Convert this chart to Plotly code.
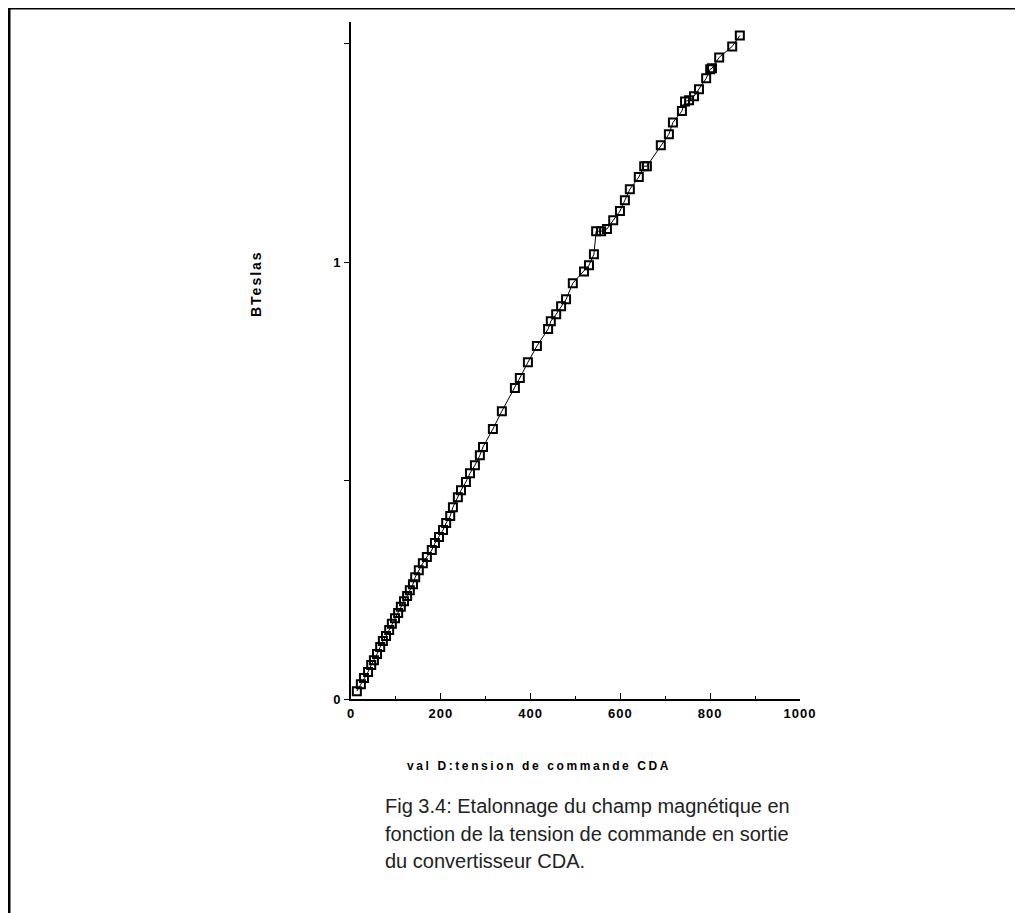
import plotly.graph_objects as go

# Data: control value (CDA) vs magnetic field (Tesla)
val_d = [13, 22, 29, 38, 45, 51, 58, 65, 71, 78, 85, 91, 98, 105, 111, 118, 125, 131, 138,
         143, 151, 160, 169, 180, 187, 196, 205, 212, 221, 227, 238, 245, 256, 265, 276,
         287, 294, 316, 336, 365, 376, 394, 414, 439, 445, 457, 468, 479, 494, 519, 530,
         541, 546, 557, 570, 584, 599, 610, 621, 641, 653, 659, 690, 708, 717, 737, 744,
         753, 764, 775, 791, 800, 804, 820, 849, 866]
b_teslas = [0.018, 0.034, 0.048, 0.062, 0.078, 0.089, 0.103, 0.119, 0.133, 0.144, 0.158,
            0.172, 0.185, 0.197, 0.211, 0.224, 0.236, 0.249, 0.263, 0.279, 0.295, 0.311,
            0.325, 0.341, 0.357, 0.371, 0.387, 0.403, 0.419, 0.439, 0.462, 0.478, 0.497,
            0.517, 0.535, 0.558, 0.577, 0.618, 0.659, 0.712, 0.735, 0.771, 0.808, 0.847,
            0.865, 0.881, 0.899, 0.915, 0.952, 0.979, 0.993, 1.018, 1.071, 1.071, 1.076,
            1.096, 1.117, 1.142, 1.167, 1.195, 1.220, 1.220, 1.268, 1.293, 1.320, 1.346,
            1.368, 1.371, 1.380, 1.396, 1.421, 1.442, 1.444, 1.469, 1.494, 1.519]

x_ticks = [0, 200, 400, 600, 800, 1000]
x_ticklabels = ["0", "200", "400", "600", "800", "1000"]
y_ticks = [0, 0.5, 1, 1.5]
y_ticklabels = ["0", "", "1", ""]

x_title = "val D:tension de commande CDA"
y_title = "BTeslas"
caption_lines = ["Fig 3.4: Etalonnage du champ magnétique en",
                 "fonction de la tension de commande en sortie",
                 "du convertisseur CDA."]


def spaced(t, ls):
    return f'<span style="letter-spacing:{ls}px">{t}</span>' if t else t


# page offset (body margin) compensation
W, H = 1015, 905
L, T = 343, 14
PW, PH = 449, 677

fig = go.Figure()
fig.add_trace(go.Scatter(
    x=val_d, y=b_teslas, mode="lines+markers",
    line=dict(color="black", width=1),
    marker=dict(symbol="square-open", size=8, color="black", line=dict(width=2, color="black")),
    showlegend=False, hoverinfo="skip"))

sans = "Liberation Sans, Arial, sans-serif"
tick_font = dict(family=sans, size=13, color="black", weight="bold")


def px_x(p):
    return (p - 8 - L) / PW


def px_y(p):
    return 1 - (p - 8 - T) / PH


annotations = [
    dict(text=spaced(y_title, 2), textangle=-90, xref="paper", yref="paper",
         x=px_x(256), y=px_y(284), xanchor="center", yanchor="middle", showarrow=False,
         font=dict(family=sans, size=14, color="black", weight="bold")),
    dict(text=spaced(x_title, 2.6), xref="paper", yref="paper",
         x=px_x(539), y=px_y(766), xanchor="center", yanchor="middle", showarrow=False,
         font=dict(family=sans, size=12, color="black", weight="bold")),
]
for i, line in enumerate(caption_lines):
    annotations.append(dict(text=line, xref="paper", yref="paper", xanchor="left",
                            yanchor="middle", align="left",
                            x=px_x(383), y=px_y(806 + i * 27.5), showarrow=False,
                            font=dict(family=sans, size=20, color="#222")))

fig.update_layout(
    width=W, height=H,
    margin=dict(l=L, r=W - L - PW, t=T, b=H - T - PH),
    paper_bgcolor="white", plot_bgcolor="white",
    xaxis=dict(range=[0, 1000], tickvals=x_ticks,
               ticktext=[spaced(t, 1) for t in x_ticklabels], showgrid=False,
               zeroline=False, showline=True, linecolor="black", linewidth=2,
               ticks="inside", ticklen=6, tickwidth=1, tickcolor="black",
               minor=dict(dtick=100, ticks="inside", ticklen=3, tickcolor="black"),
               tickfont=tick_font, ticklabelstandoff=1),
    yaxis=dict(range=[0, 1.55], tickvals=y_ticks,
               ticktext=[spaced(t, 1) for t in y_ticklabels], showgrid=False,
               zeroline=False, showline=True, linecolor="black", linewidth=2,
               ticks="outside", ticklen=5, tickwidth=1, tickcolor="black",
               tickfont=tick_font),
    shapes=[
        dict(type="line", xref="paper", yref="paper", x0=px_x(8), x1=px_x(1030),
             y0=px_y(8), y1=px_y(8), line=dict(color="black", width=3)),
        dict(type="line", xref="paper", yref="paper", x0=px_x(9), x1=px_x(9),
             y0=px_y(8), y1=px_y(920), line=dict(color="black", width=3)),
    ],
    annotations=annotations,
)

fig.write_html("out.html")
